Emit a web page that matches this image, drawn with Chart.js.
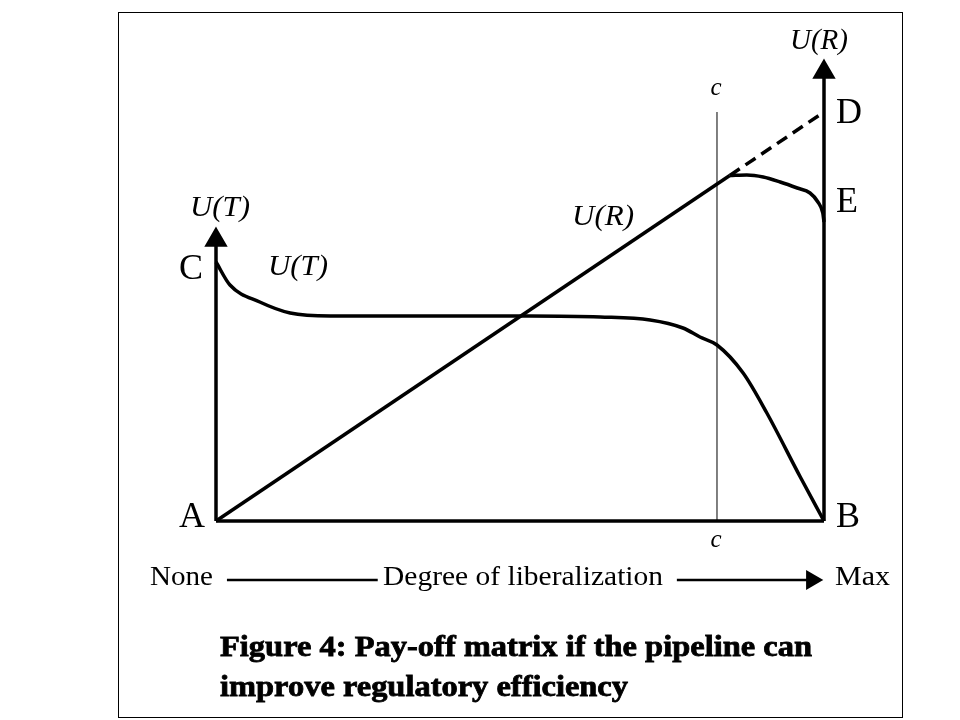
<!DOCTYPE html>
<html>
<head>
<meta charset="utf-8">
<script src="https://cdn.jsdelivr.net/npm/chart.js@4.4.1/dist/chart.umd.min.js"></script>
<style>
  html, body { margin: 0; padding: 0; background: #fff; }
  #wrap { width: 960px; height: 720px; }
</style>
</head>
<body>
<div id="wrap"><canvas id="chart" width="960" height="720"></canvas></div>
<script>
// Degree of liberalization (x, 0 = None, 100 = Max) and utility (y)
// U(T): payoff of the transit side
const utX = [0, 2.3, 7.2, 12.2, 18.8, 38.5, 51.6, 63.2, 71.4, 76.8, 79.6, 82.4, 86.7, 90.6, 96.1, 100];
const utY = [51.8, 47.2, 43.8, 41.6, 41.0, 41.0, 41.0, 40.8, 40.2, 38.6, 36.8, 35.2, 29.6, 21.6, 8.8, 0];
// U(R): straight line A -> D (dashed beyond the kink)
const urX = [0, 84.5, 100];
const urY = [0, 69.1, 81.8];
// U(R) after the kink, falling to E
const ueX = [84.5, 87.3, 90.0, 92.8, 95.6, 97.7, 99.0, 99.8, 100];
const ueY = [69.1, 69.2, 68.8, 67.8, 66.6, 65.6, 63.8, 61.6, 59.8];
// threshold c
const cX = [82.4, 82.4];
const cY = [0, 81.8];
// axes
const leftAxisY = [0, 56.2];
const rightAxisY = [0, 89.8];
const baseX = [0, 100];
// bottom "None ---- Degree of liberalization ----> Max" arrows
const arrowY = -11.8;
const arrowLeftX = [1.8, 26.6];
const arrowRightX = [75.8, 98.0];

const pts = (xs, ys) => xs.map((x, i) => ({x, y: ys[i]}));
const flat = (xs, y) => xs.map(x => ({x, y}));
const vert = (x, ys) => ys.map(y => ({x, y}));

const black = '#000';
const base = {borderColor: black, backgroundColor: black, borderWidth: 3.5, pointRadius: 0, fill: false, tension: 0};

const datasets = [
  {...base, data: vert(0, leftAxisY), pointRadius: [0, 10], pointStyle: 'triangle'},
  {...base, data: vert(100, rightAxisY), pointRadius: [0, 10], pointStyle: 'triangle'},
  {...base, data: flat(baseX, 0)},
  {...base, data: pts(cX, cY), borderWidth: 1},
  {...base, data: pts(urX, urY),
    segment: {borderDash: ctx => ctx.p0DataIndex === 1 ? [12, 7] : undefined}},
  {...base, data: pts(utX, utY), cubicInterpolationMode: 'monotone'},
  {...base, data: pts(ueX, ueY), cubicInterpolationMode: 'monotone'},
  {...base, data: flat(arrowLeftX, arrowY), borderWidth: 2.5},
  {...base, data: flat(arrowRightX, arrowY), borderWidth: 2.5,
    pointRadius: [0, 9], pointStyle: 'triangle', rotation: 90},
];

// labels and frame
const textPlugin = {
  id: 'texts',
  afterDatasetsDraw(chart){
    const c = chart.ctx;
    c.save();
    c.fillStyle = black;
    c.strokeStyle = black;
    c.lineWidth = 1;
    c.strokeRect(118.5, 12.5, 784, 705);

    const serif = '"Liberation Serif", "Times New Roman", serif';
    // draw text, optionally stretched horizontally to a target width
    const put = (t, x, y, font, align='center', width=0, heavy=false) => {
      c.save();
      c.font = font + ' ' + serif;
      c.textAlign = align;
      c.textBaseline = 'middle';
      const s = width ? width / c.measureText(t).width : 1;
      c.translate(x, y);
      c.scale(s, 1);
      c.fillText(t, 0, 0);
      if(heavy){ c.lineWidth = 0.8; c.strokeText(t, 0, 0); }
      c.restore();
    };
    const up = '36px', it = 'italic 29px', small = 'italic 25px';
    put('U(R)', 819, 41, it, 'center', 58);
    put('c', 716, 88, small);
    put('D', 849, 114, up);
    put('E', 847, 203, up);
    put('U(T)', 220, 208, it, 'center', 60);
    put('C', 191, 270, up);
    put('U(T)', 298, 267, it, 'center', 60);
    put('U(R)', 603, 217, it, 'center', 62);
    put('A', 192, 518, up);
    put('B', 848, 518, up);
    put('c', 716, 540, small);
    put('None', 150, 578, '27px', 'left', 63);
    put('Degree of liberalization', 383, 578, '27px', 'left', 280);
    put('Max', 835, 578, '27px', 'left', 55);
    put('Figure 4: Pay-off matrix if the pipeline can', 220, 648, 'bold 30px', 'left', 592, true);
    put('improve regulatory efficiency', 220, 688, 'bold 30px', 'left', 408, true);
    c.restore();
  }
};

new Chart(document.getElementById('chart'), {
  type: 'line',
  data: {datasets},
  options: {
    responsive: false,
    animation: false,
    layout: {padding: 0, autoPadding: false},
    plugins: {legend: {display: false}, tooltip: {enabled: false}},
    scales: {
      x: {type: 'linear', min: -216 / 6.08, max: (960 - 216) / 6.08, display: false},
      y: {type: 'linear', min: (521 - 720) / 5, max: 521 / 5, display: false},
    },
  },
  plugins: [textPlugin],
});
</script>
</body>
</html>
